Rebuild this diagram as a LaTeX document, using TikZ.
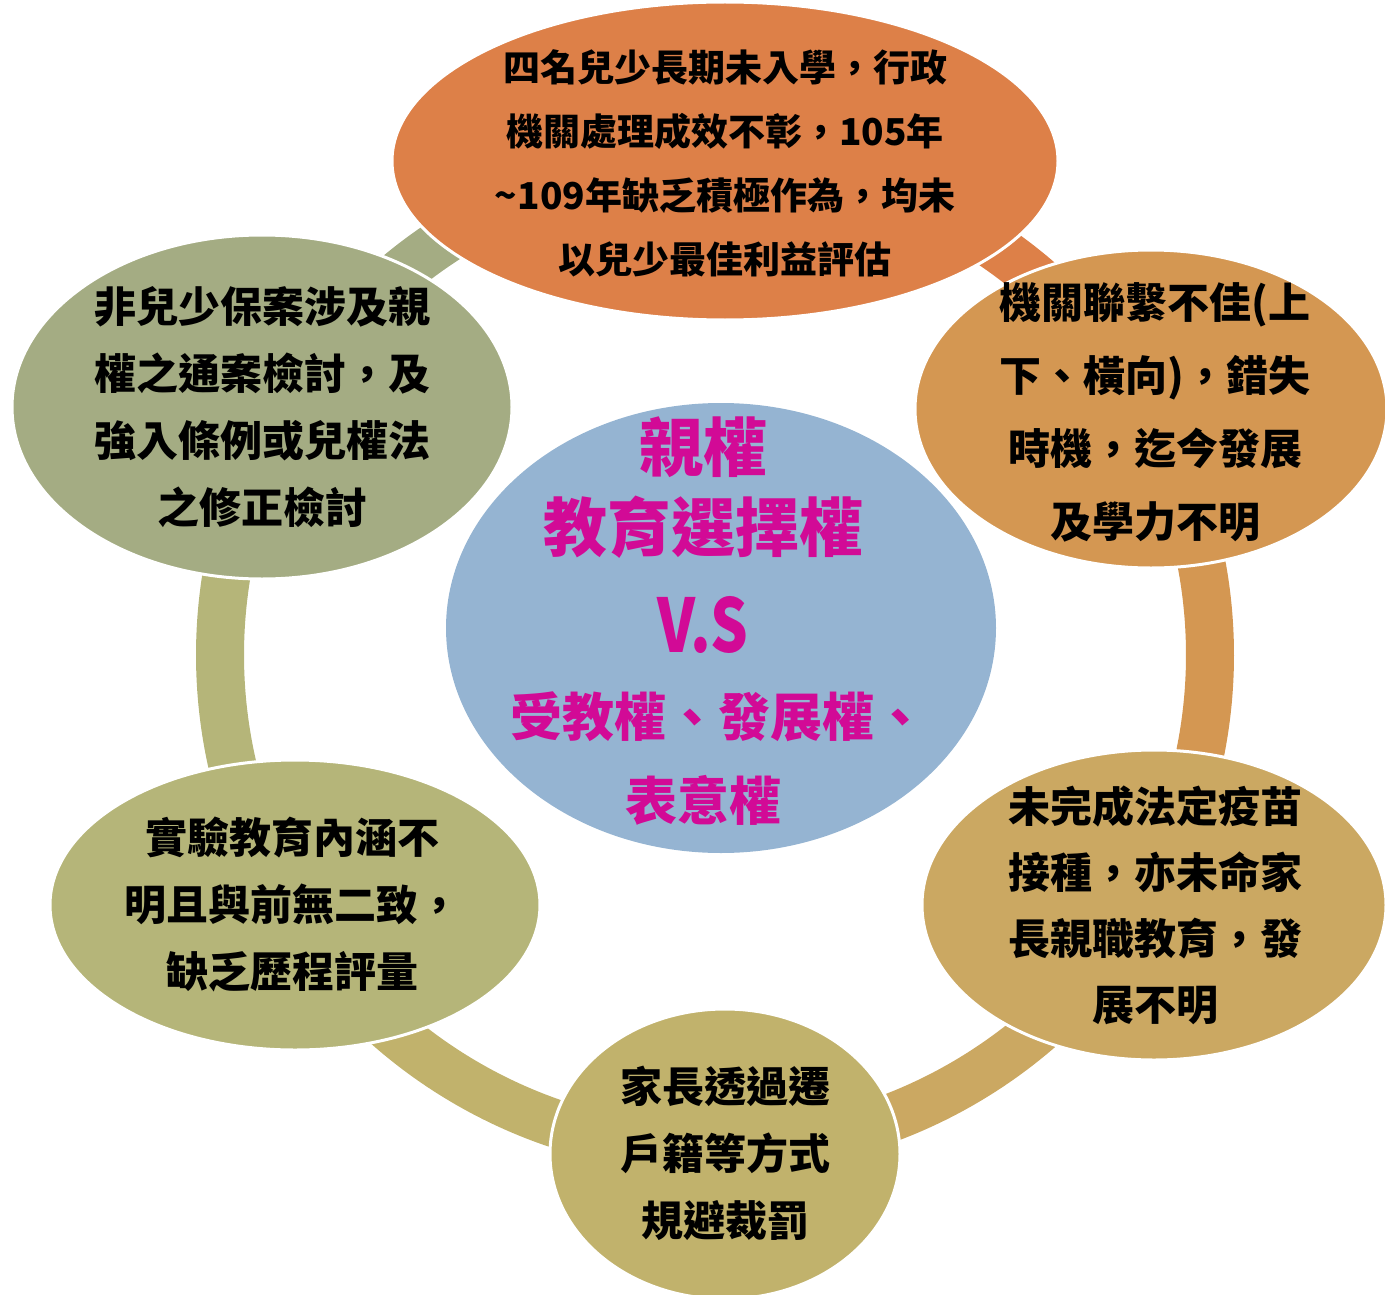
\documentclass[tikz,border=0pt]{standalone}
\usepackage{fontspec}
\setmainfont{Noto Sans CJK TC}
\usetikzlibrary{shapes.geometric}
\definecolor{topc}{RGB}{221,128,72}
\definecolor{ruc}{RGB}{212,151,82}
\definecolor{rlc}{RGB}{203,168,98}
\definecolor{botc}{RGB}{193,178,108}
\definecolor{llc}{RGB}{181,181,121}
\definecolor{luc}{RGB}{164,172,131}
\definecolor{cenc}{RGB}{149,180,210}
\definecolor{magc}{RGB}{210,10,150}
\begin{document}
\begin{tikzpicture}[x=1pt,y=-1pt,
  bubble/.style={ellipse, draw=white, line width=3pt, inner sep=0pt},
  lbl/.style={align=center, text=black, font=\bfseries\fontsize{42}{67}\selectfont},
  seg/.style={line width=48pt}]
\useasboundingbox (0,0) rectangle (1385,1295);
\coordinate (ringc) at (715,655);
% ring segments
\draw[seg, draw=topc] (ringc) ++(-89:495) arc[start angle=-89, end angle=-29, radius=495];
\draw[seg, draw=ruc]  (ringc) ++(-29:495) arc[start angle=-29, end angle=30, radius=495];
\draw[seg, draw=rlc]  (ringc) ++(30:495) arc[start angle=30, end angle=89, radius=495];
\draw[seg, draw=botc] (ringc) ++(89:495) arc[start angle=89, end angle=149, radius=495];
\draw[seg, draw=llc]  (ringc) ++(149:495) arc[start angle=149, end angle=209, radius=495];
\draw[seg, draw=luc]  (ringc) ++(209:495) arc[start angle=209, end angle=271, radius=495];
% bubbles
\node[bubble, fill=topc, minimum width=666pt, minimum height=318pt] (top) at (725,161) {};
\node[bubble, fill=ruc, minimum width=472pt, minimum height=318pt] (ru) at (1151,409) {};
\node[bubble, fill=rlc, minimum width=464pt, minimum height=310pt] (rl) at (1154,905) {};
\node[bubble, fill=botc, minimum width=350pt, minimum height=290pt] (bot) at (725,1154) {};
\node[bubble, fill=llc, minimum width=490pt, minimum height=290pt] (ll) at (295,905) {};
\node[bubble, fill=luc, minimum width=500pt, minimum height=344pt] (lu) at (262,407) {};
\node[ellipse, fill=cenc, inner sep=0pt, minimum width=550pt, minimum height=450pt] (cen) at (721,628) {};
% texts
\node[lbl, font=\bfseries\fontsize{37}{64}\selectfont] (toptext) at (725,163)
  {四名兒少長期未入學，行政\\機關處理成效不彰，105年\\\textasciitilde109年缺乏積極作為，均未\\以兒少最佳利益評估};
\node[lbl, font=\bfseries\fontsize{42}{73}\selectfont] (rutext) at (1155,412)
  {機關聯繫不佳(上\\下、橫向)，錯失\\時機，迄今發展\\及學力不明};
\node[lbl, font=\bfseries\fontsize{42}{66}\selectfont] (rltext) at (1155,905)
  {未完成法定疫苗\\接種，亦未命家\\長親職教育，發\\展不明};
\node[lbl] (bottext) at (725,1153)
  {家長透過遷\\戶籍等方式\\規避裁罰};
\node[lbl] (lltext) at (292,905)
  {實驗教育內涵不\\明且與前無二致，\\缺乏歷程評量};
\node[lbl] (lutext) at (262,407)
  {非兒少保案涉及親\\權之通案檢討，及\\強入條例或兒權法\\之修正檢討};
\node[align=center, text=magc, font=\bfseries\fontsize{64}{80}\selectfont] (centext) at (703,621)
  {親權\\教育選擇權\\[21pt]{\fontsize{74}{80}\selectfont\scalebox{0.8}[1]{V.S}}\\[4pt]{\fontsize{52}{80}\selectfont\hspace*{30pt}受教權、發展權、}\\[4pt]{\fontsize{52}{80}\selectfont 表意權}};
\end{tikzpicture}
\end{document}
